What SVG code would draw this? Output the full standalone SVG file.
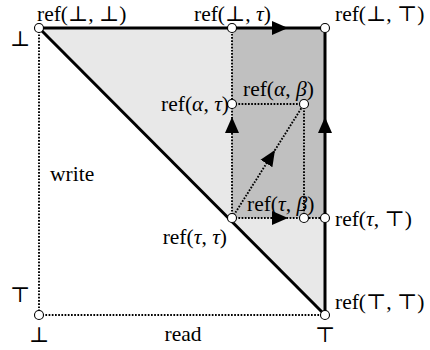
<svg xmlns="http://www.w3.org/2000/svg" width="430" height="350" viewBox="0 0 430 350">
<style>
.lbl{font-family:"Liberation Serif","DejaVu Serif",serif;font-size:21.5px;fill:#000}
.m{font-style:italic}
.thick{stroke:#000;stroke-width:3;fill:none}
.dot{stroke:#000;stroke-width:1.9;fill:none;stroke-dasharray:1.7 1.5}
.node{fill:#fff;stroke:#000;stroke-width:1.1}
</style>
<defs>
<marker id="ah" markerUnits="userSpaceOnUse" markerWidth="18" markerHeight="16" viewBox="0 -8 18 16" refX="16" refY="0" orient="auto">
<path d="M0,-7 L16,0 L0,7 z" fill="#000"/>
</marker>
</defs>
<g id="regions">
<polygon points="39,28 325,28 325,315" fill="#e8e8e8"/>
<rect x="232" y="28" width="93" height="190" fill="#c0c0c0"/>
</g>
<g id="connectors">
<path class="dot" d="M39,28 L39,315"/>
<path class="dot" d="M39,315 L325,315"/>
<path class="dot" d="M232,218 L232,117 L232,28" marker-mid="url(#ah)"/>
<path class="dot" d="M232,104 L304,104"/>
<path class="dot" d="M304,104 L304,218"/>
<path class="dot" d="M232,218 L288,218 L325,218" marker-mid="url(#ah)"/>
<path class="dot" d="M232,218 L275,150 L304,104" marker-mid="url(#ah)"/>
<path class="thick" d="M39,28 L288,28 L325,28" marker-mid="url(#ah)"/>
<path class="thick" d="M325,315 L325,117 L325,28" marker-mid="url(#ah)"/>
<path class="thick" d="M39,28 L325,315"/>
</g>
<g id="axis-labels">
<text class="lbl" x="20" y="46" text-anchor="middle">⊥</text>
<text class="lbl" x="20" y="302" text-anchor="middle">⊤</text>
<text class="lbl" x="39" y="342" text-anchor="middle">⊥</text>
<text class="lbl" x="325" y="342" text-anchor="middle">⊤</text>
<text class="lbl" x="183" y="341" text-anchor="middle">read</text>
<text class="lbl" x="50" y="181">write</text>
</g>
<g id="n-bot-bot"><circle class="node" cx="39" cy="28" r="4.5"/><text class="lbl" x="37" y="21">ref(⊥, ⊥)</text></g>
<g id="n-bot-tau"><circle class="node" cx="232" cy="28" r="4.5"/><text class="lbl" x="194" y="21">ref(⊥, <tspan class="m">τ</tspan>)</text></g>
<g id="n-bot-top"><circle class="node" cx="325" cy="28" r="4.5"/><text class="lbl" x="335" y="21">ref(⊥, ⊤)</text></g>
<g id="n-alpha-tau"><circle class="node" cx="232" cy="104" r="4.5"/><text class="lbl" x="229" y="111" text-anchor="end">ref(<tspan class="m">α</tspan>, <tspan class="m">τ</tspan>)</text></g>
<g id="n-alpha-beta"><circle class="node" cx="304" cy="104" r="4.5"/><text class="lbl" x="243" y="96">ref(<tspan class="m">α</tspan>, <tspan class="m">β</tspan>)</text></g>
<g id="n-tau-tau"><circle class="node" cx="232" cy="218" r="4.5"/><text class="lbl" x="227" y="244" text-anchor="end">ref(<tspan class="m">τ</tspan>, <tspan class="m">τ</tspan>)</text></g>
<g id="n-tau-beta"><circle class="node" cx="304" cy="218" r="4.5"/><text class="lbl" x="247" y="211">ref(<tspan class="m">τ</tspan>, <tspan class="m">β</tspan>)</text></g>
<g id="n-tau-top"><circle class="node" cx="325" cy="218" r="4.5"/><text class="lbl" x="335" y="226">ref(<tspan class="m">τ</tspan>, ⊤)</text></g>
<g id="n-top-top"><circle class="node" cx="325" cy="315" r="4.5"/><text class="lbl" x="335" y="309">ref(⊤, ⊤)</text></g>
<g id="n-origin"><circle class="node" cx="39" cy="315" r="4.5"/></g>
</svg>
